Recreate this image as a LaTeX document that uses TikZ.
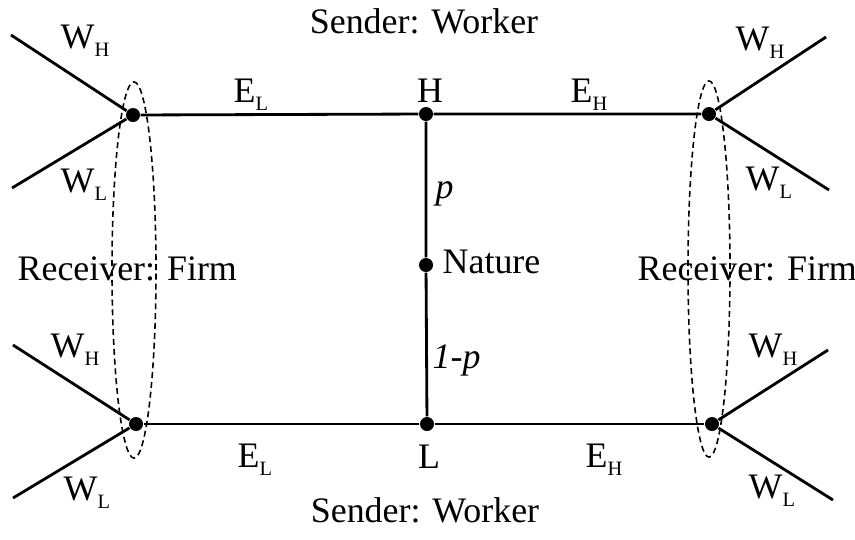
\documentclass[tikz,border=0pt]{standalone}
\usepackage{fontspec}
\setmainfont{Liberation Serif}
\newcommand{\subs}[1]{\raisebox{-0.25em}{\fontsize{5.8}{7}\selectfont #1}}

\begin{document}
\begin{tikzpicture}[x=0.01cm,y=-0.01cm,
    every node/.style={font=\fontsize{10.2}{12}\selectfont, inner sep=0pt},
    dot/.style={circle, fill, minimum size=0.14cm},
    lbl/.style={anchor=base west},
    edge/.style={line width=0.8pt}]
  \useasboundingbox (0,0) rectangle (855,539);

  % decision nodes
  \node[dot] (TL) at (133,115) {};
  \node[dot] (H) at (426,114) {};
  \node[dot] (TR) at (709,114) {};
  \node[dot] (N) at (426,265) {};
  \node[dot] (BL) at (136,424) {};
  \node[dot] (L) at (427,424) {};
  \node[dot] (BR) at (712,424) {};

  % end points
  \coordinate (TLh) at (11,35);
  \coordinate (TLl) at (12,188);
  \coordinate (TRh) at (826,37);
  \coordinate (TRl) at (829,190);
  \coordinate (BLh) at (13,345);
  \coordinate (BLl) at (13,498);
  \coordinate (BRh) at (828,350);
  \coordinate (BRl) at (833,500);

  \draw[edge] (TL) -- (H) -- (TR);
  \draw[edge] (BL) -- (L) -- (BR);
  \draw[edge] (H) -- (N) -- (L);
  \draw[edge] (TL) -- (TLh);
  \draw[edge] (TL) -- (TLl);
  \draw[edge] (TR) -- (TRh);
  \draw[edge] (TR) -- (TRl);
  \draw[edge] (BL) -- (BLh);
  \draw[edge] (BL) -- (BLl);
  \draw[edge] (BR) -- (BRh);
  \draw[edge] (BR) -- (BRl);

  % information sets
  \draw[line width=0.45pt, dash pattern=on 1.7pt off 1.1pt] (134,270) ellipse [x radius=0.22cm, y radius=1.88cm];
  \draw[line width=0.45pt, dash pattern=on 1.7pt off 1.1pt] (709,269) ellipse [x radius=0.21cm, y radius=1.88cm];

  % labels
  \node[anchor=base] (s1) at (424,33) {Sender: Worker};
  \node[anchor=base] (s2) at (425,522) {Sender: Worker};
  \node[lbl] (r1) at (17,280) {Receiver: Firm};
  \node[lbl] (r2) at (637,280) {Receiver: Firm};
  \node[anchor=base] (hl) at (430,102) {H};
  \node[anchor=base] (ll) at (429,468) {L};
  \node[lbl] (nl) at (442,273) {Nature};
  \node[lbl] (pl) at (435,198) {\textit{p}};
  \node[lbl] (ql) at (432,368) {\textit{1-p}};

  \node[lbl] at (233,102) {E\subs{L}};
  \node[lbl] at (570,102) {E\subs{H}};
  \node[lbl] at (237,467) {E\subs{L}};
  \node[lbl] at (585,467) {E\subs{H}};

  \node[lbl] at (60,48) {W\subs{H}};
  \node[lbl] at (60,192) {W\subs{L}};
  \node[lbl] at (735,50) {W\subs{H}};
  \node[lbl] at (745,190) {W\subs{L}};
  \node[lbl] at (50,357) {W\subs{H}};
  \node[lbl] at (63,500) {W\subs{L}};
  \node[lbl] at (748,357) {W\subs{H}};
  \node[lbl] at (748,498) {W\subs{L}};
\end{tikzpicture}
\end{document}
